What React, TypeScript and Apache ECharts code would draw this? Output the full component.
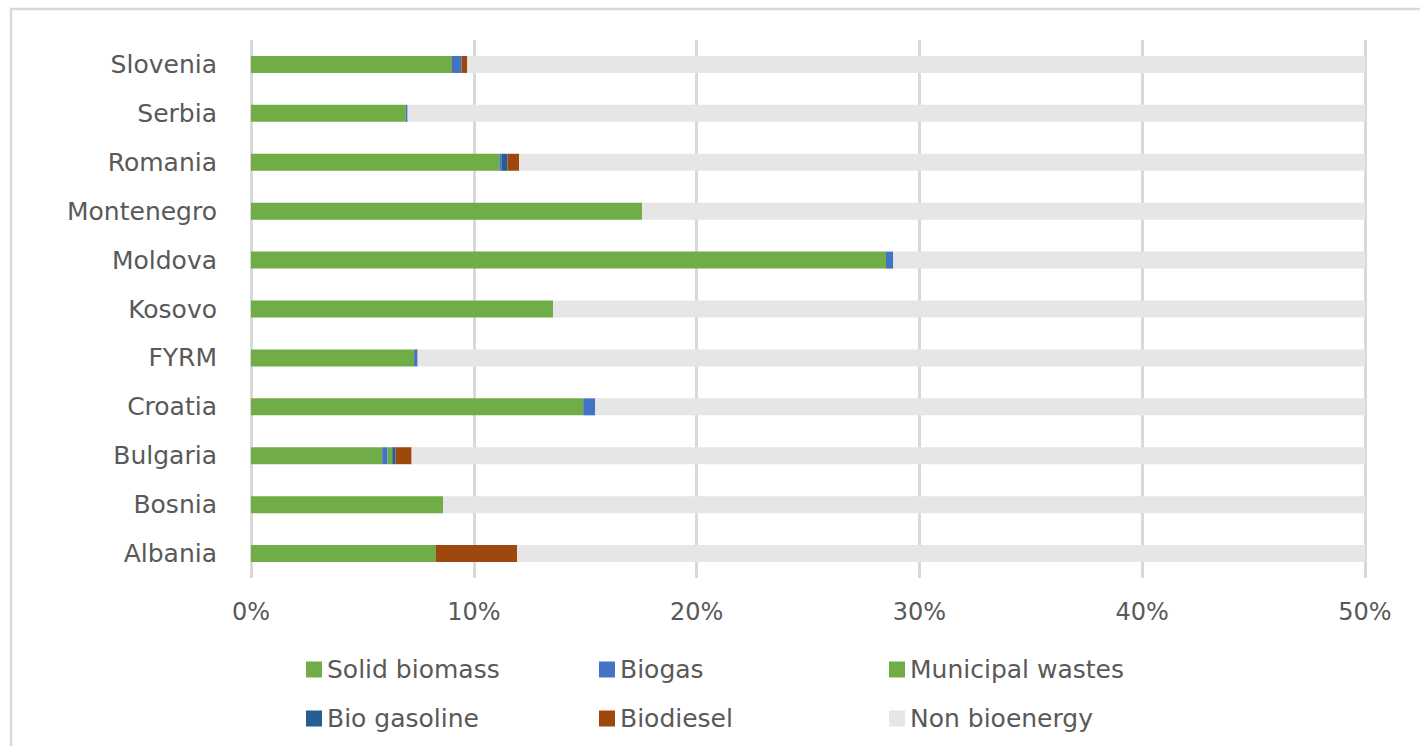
import React, { useEffect, useRef } from "react";
import * as echarts from "echarts";

const categories = ["Albania", "Bosnia", "Bulgaria", "Croatia", "FYRM", "Kosovo", "Moldova", "Montenegro", "Romania", "Serbia", "Slovenia"];
const solidBiomass = [8.3, 8.63, 5.89, 14.91, 7.32, 13.56, 28.5, 17.55, 11.15, 6.95, 9.02];
const biogas = [0, 0, 0.24, 0.54, 0.16, 0, 0.33, 0, 0.09, 0.08, 0.43];
const municipalWastes = [0, 0, 0.21, 0, 0, 0, 0, 0, 0, 0, 0];
const bioGasoline = [0, 0, 0.15, 0, 0, 0, 0, 0, 0.27, 0, 0];
const biodiesel = [3.64, 0, 0.72, 0, 0, 0, 0, 0, 0.52, 0, 0.26];
const nonBioenergy = [88.06, 91.37, 92.79, 84.55, 92.52, 86.44, 71.17, 82.45, 87.97, 92.97, 90.29];
const xTicks = [0, 10, 20, 30, 40, 50];

const seriesNames = ["Solid biomass", "Biogas", "Municipal wastes", "Bio gasoline", "Biodiesel", "Non bioenergy"];
const seriesData = [solidBiomass, biogas, municipalWastes, bioGasoline, biodiesel, nonBioenergy];
const seriesColors = ["#70AD47", "#4472C4", "#70AD47", "#255E91", "#9E480E", "#E7E6E6"];

const FONT = "DejaVu Sans";
const TEXT = "#595959";

export default function App() {
  const ref = useRef<HTMLDivElement>(null);
  useEffect(() => {
    document.body.style.margin = "0";
    const chart = echarts.init(ref.current!, undefined, { renderer: "svg" });
    const legendCols = [
      { left: 301, names: [seriesNames[0], seriesNames[3]] },
      { left: 594, names: [seriesNames[1], seriesNames[4]] },
      { left: 884, names: [seriesNames[2], seriesNames[5]] },
    ];
    chart.setOption({
      animation: false,
      graphic: [
        {
          type: "rect",
          shape: { x: 11, y: 9, width: 1420, height: 760 },
          style: { fill: "none", stroke: "#D9D9D9", lineWidth: 2.5 },
          silent: true,
        },
      ],
      grid: { left: 251, right: 55, top: 40, bottom: 168 },
      xAxis: {
        type: "value",
        min: 0,
        max: 50,
        interval: 10,
        axisLine: { show: false },
        axisTick: { show: false },
        axisLabel: {
          formatter: (v: number) => (xTicks.includes(v) ? v + "%" : ""),
          color: TEXT,
          fontFamily: FONT,
          fontSize: 24,
          margin: 22,
        },
        splitLine: { show: true, lineStyle: { color: "#D9D9D9", width: 3 } },
      },
      yAxis: {
        type: "category",
        data: categories,
        axisLine: { show: false },
        axisTick: { show: false },
        axisLabel: { color: TEXT, fontFamily: FONT, fontSize: 25, margin: 34 },
      },
      legend: legendCols.map((c) => ({
        orient: "vertical",
        left: c.left,
        top: 652,
        data: c.names,
        icon: "rect",
        itemWidth: 16,
        itemHeight: 16,
        itemGap: 24,
        textStyle: { color: TEXT, fontFamily: FONT, fontSize: 25, lineHeight: 24 },
        selectedMode: false,
      })),
      series: seriesNames.map((name, i) => ({
        name,
        type: "bar",
        stack: "total",
        data: seriesData[i],
        barWidth: 17,
        itemStyle: { color: seriesColors[i] },
        clip: true,
      })),
    });
    return () => chart.dispose();
  }, []);
  return <div ref={ref} style={{ width: 1420, height: 746 }} />;
}
